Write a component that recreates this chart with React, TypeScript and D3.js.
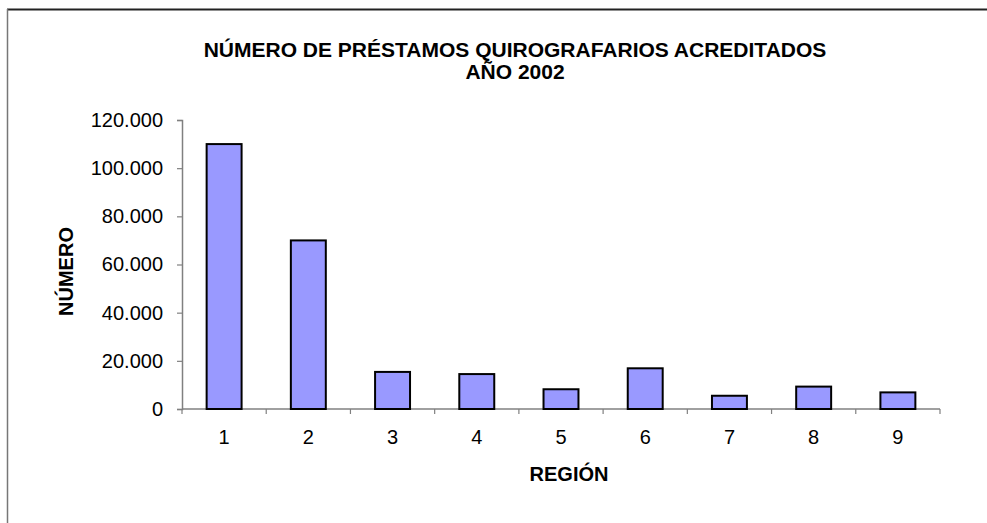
import { useEffect, useRef } from "react";
import * as d3 from "d3";

// Región and number of credited loans, 2002
const regions = ["1", "2", "3", "4", "5", "6", "7", "8", "9"];
const loans = [110000, 70000, 15400, 14500, 8200, 16900, 5500, 9300, 6900];
const yTicks = [0, 20000, 40000, 60000, 80000, 100000, 120000];
const titleLines = ["NÚMERO DE PRÉSTAMOS QUIROGRAFARIOS ACREDITADOS", "AÑO 2002"];

const W = 987;
const H = 523;
const FONT = "'Liberation Sans', Arial, sans-serif";

export default function App() {
  const svgRef = useRef<SVGSVGElement>(null);

  useEffect(() => {
    const svg = d3.select(svgRef.current);
    svg.selectAll("*").remove();

    const plot = { left: 182, right: 940, top: 120, bottom: 409 };

    // outer frame (top + left edges visible)
    svg.append("line").attr("x1", 7).attr("x2", W).attr("y1", 9.5).attr("y2", 9.5)
      .attr("stroke", "#222").attr("stroke-width", 2);
    svg.append("line").attr("x1", 7.5).attr("x2", 7.5).attr("y1", 9).attr("y2", H)
      .attr("stroke", "#777").attr("stroke-width", 1.5);

    const x = d3.scaleBand().domain(regions).range([plot.left, plot.right])
      .paddingInner(0.585).paddingOuter(0.2925);
    const y = d3.scaleLinear().domain([0, 120000]).range([plot.bottom, plot.top]);

    const locale = d3.formatLocale({ decimal: ",", thousands: ".", grouping: [3], currency: ["$", ""] });
    const fmt = locale.format(",");

    // title
    svg.append("g").selectAll("text").data(titleLines).enter().append("text")
      .attr("x", 515).attr("y", (_, i) => 57 + i * 22)
      .attr("text-anchor", "middle").attr("font-family", FONT)
      .attr("font-weight", "bold").attr("font-size", 21).attr("fill", "#000")
      .text((d) => d);

    // y axis
    const yAxis = svg.append("g").attr("transform", `translate(${plot.left},0)`)
      .call(d3.axisLeft(y).tickValues(yTicks).tickSize(5).tickPadding(14).tickFormat((d) => fmt(d as number)));
    yAxis.select(".domain").attr("stroke", "#808080").attr("stroke-width", 1.5);
    yAxis.selectAll(".tick line").attr("stroke", "#808080").attr("stroke-width", 1.2);
    yAxis.selectAll(".tick text").attr("font-family", FONT).attr("font-size", 20).attr("fill", "#000");

    // x axis line + boundary ticks
    const step = x.step();
    const x0 = x(regions[0])! - step * x.paddingOuter();
    const bounds = d3.range(regions.length + 1).map((i) => x0 + i * step);
    svg.append("line").attr("x1", plot.left).attr("x2", plot.right)
      .attr("y1", plot.bottom).attr("y2", plot.bottom)
      .attr("stroke", "#808080").attr("stroke-width", 1.5);
    svg.append("g").selectAll("line").data(bounds).enter().append("line")
      .attr("x1", (d) => d).attr("x2", (d) => d)
      .attr("y1", plot.bottom).attr("y2", plot.bottom + 5)
      .attr("stroke", "#808080").attr("stroke-width", 1.2);
    svg.append("g").selectAll("text").data(regions).enter().append("text")
      .attr("x", (d) => x(d)! + x.bandwidth() / 2).attr("y", plot.bottom + 35)
      .attr("text-anchor", "middle").attr("font-family", FONT).attr("font-size", 20)
      .attr("fill", "#000").text((d) => d);

    // bars
    svg.append("g").selectAll("rect").data(regions).enter().append("rect")
      .attr("x", (d) => x(d)!).attr("width", x.bandwidth())
      .attr("y", (_, i) => y(loans[i])).attr("height", (_, i) => y(0) - y(loans[i]))
      .attr("fill", "#9999FF").attr("stroke", "#000").attr("stroke-width", 2);

    // axis titles
    svg.append("text").attr("x", 569).attr("y", 481)
      .attr("text-anchor", "middle").attr("font-family", FONT).attr("font-weight", "bold")
      .attr("font-size", 20).attr("fill", "#000").text("REGIÓN");
    svg.append("text")
      .attr("transform", `translate(73,${(plot.top + plot.bottom) / 2 + 7}) rotate(-90)`)
      .attr("text-anchor", "middle").attr("font-family", FONT).attr("font-weight", "bold")
      .attr("font-size", 20).attr("fill", "#000").text("NÚMERO");
  }, []);

  return (
    <svg ref={svgRef} width={W} height={H}
      style={{ position: "absolute", left: 0, top: 0, background: "#fff" }} />
  );
}
